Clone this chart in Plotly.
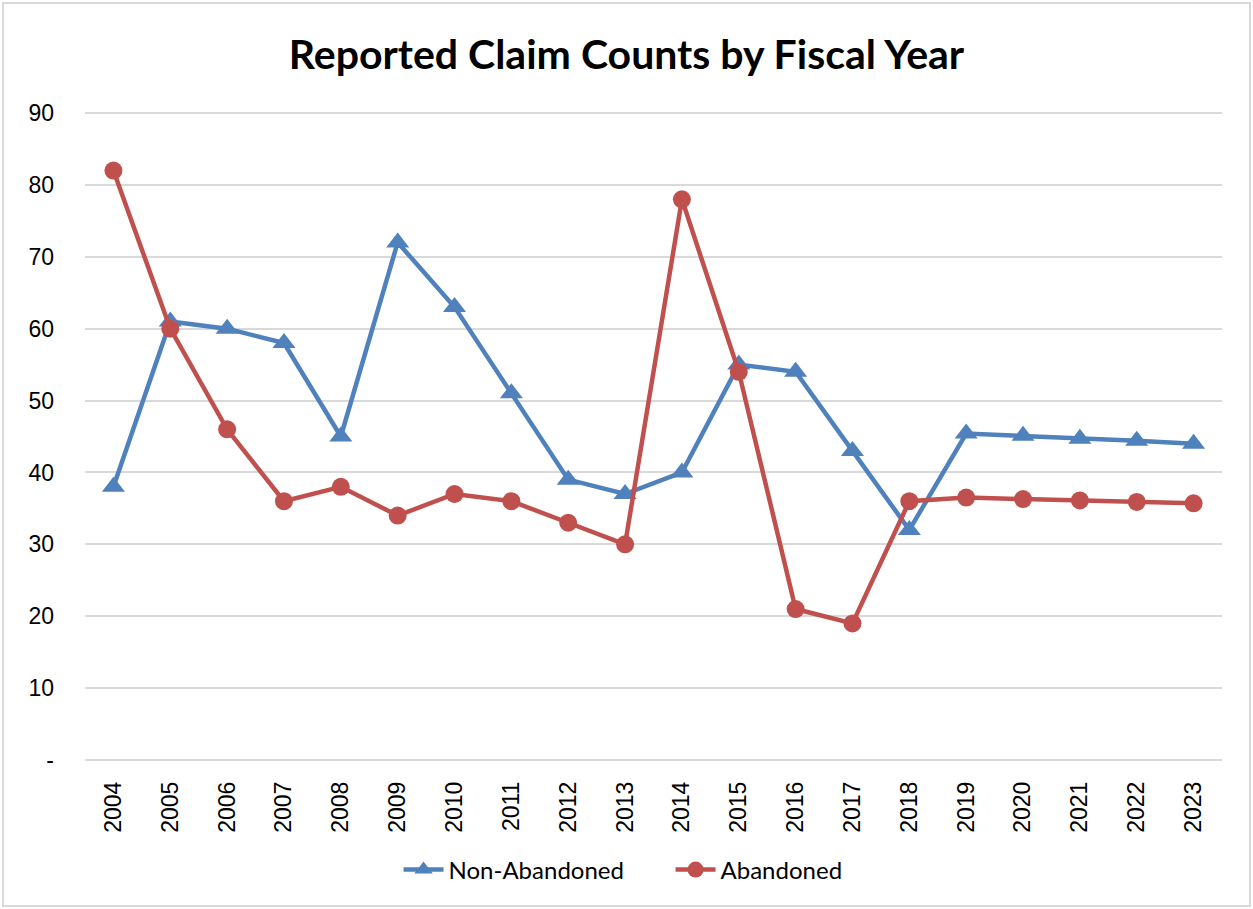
import plotly.graph_objects as go

years = [str(y) for y in range(2004, 2024)]
non_abandoned = [38, 61, 60, 58, 45, 72, 63, 51, 39, 37, 40, 55, 54, 43, 32, 45.4, 45.1, 44.7, 44.4, 44.0]
abandoned = [82, 60, 46, 36, 38, 34, 37, 36, 33, 30, 78, 54, 21, 19, 36, 36.5, 36.3, 36.1, 35.9, 35.7]
y_ticks = [0, 10, 20, 30, 40, 50, 60, 70, 80, 90]
y_ticktext = ["-", "10", "20", "30", "40", "50", "60", "70", "80", "90"]

FONT = "Lato"
TICKFONT = "Liberation Sans"
W, H = 1253, 909
L, R, T, B = 85, 31, 111, 147
PW, PH = W - L - R, H - T - B

fig = go.Figure()
fig.add_trace(go.Scatter(
    x=years, y=non_abandoned, name="Non-Abandoned", mode="lines+markers",
    line=dict(color="#4F81BD", width=4.5),
    marker=dict(symbol="triangle-up", size=20, color="#4F81BD"),
))
fig.add_trace(go.Scatter(
    x=years, y=abandoned, name="Abandoned", mode="lines+markers",
    line=dict(color="#C0504D", width=4.5),
    marker=dict(symbol="circle", size=18, color="#C0504D"),
))

fig.update_layout(
    width=W, height=H,
    paper_bgcolor="white", plot_bgcolor="white",
    margin=dict(l=L, r=R, t=T, b=B),
    title=dict(text="<b>Reported Claim Counts by Fiscal Year</b>", x=0.5, xanchor="center",
               y=1 - 55 / H, yanchor="middle", font=dict(family=FONT, size=41, color="black")),
    font=dict(family=FONT, size=22, color="black"),
    showlegend=True,
    legend=dict(orientation="h", x=0.515, xanchor="center", y=-(870 - (T + PH)) / PH, yanchor="middle",
                font=dict(family=FONT, size=24, color="black"), itemwidth=40, entrywidth=217),
    xaxis=dict(type="category", range=[-0.5, 19.5], showgrid=False, showline=False,
               tickangle=-90, ticks="", ticklabelstandoff=14, zeroline=False,
               tickfont=dict(family=TICKFONT, size=23)),
    yaxis=dict(range=[-0.28, 90.28], tickvals=y_ticks, ticktext=y_ticktext, showgrid=True,
               gridcolor="#D9D9D9", gridwidth=2, zeroline=False, showline=False,
               ticks="", ticklabelstandoff=30, tickfont=dict(family=TICKFONT, size=23)),
    shapes=[dict(type="rect", xref="paper", yref="paper",
                 x0=(3 - L) / PW, x1=(1250 - L) / PW,
                 y0=-(906 - (T + PH)) / PH, y1=1 + (T - 3) / PH,
                 line=dict(color="#D9D9D9", width=2))],
)

fig.write_html("out.html", config={"displayModeBar": False},
               post_script="document.body.style.margin='0';document.body.style.overflow='hidden';")
